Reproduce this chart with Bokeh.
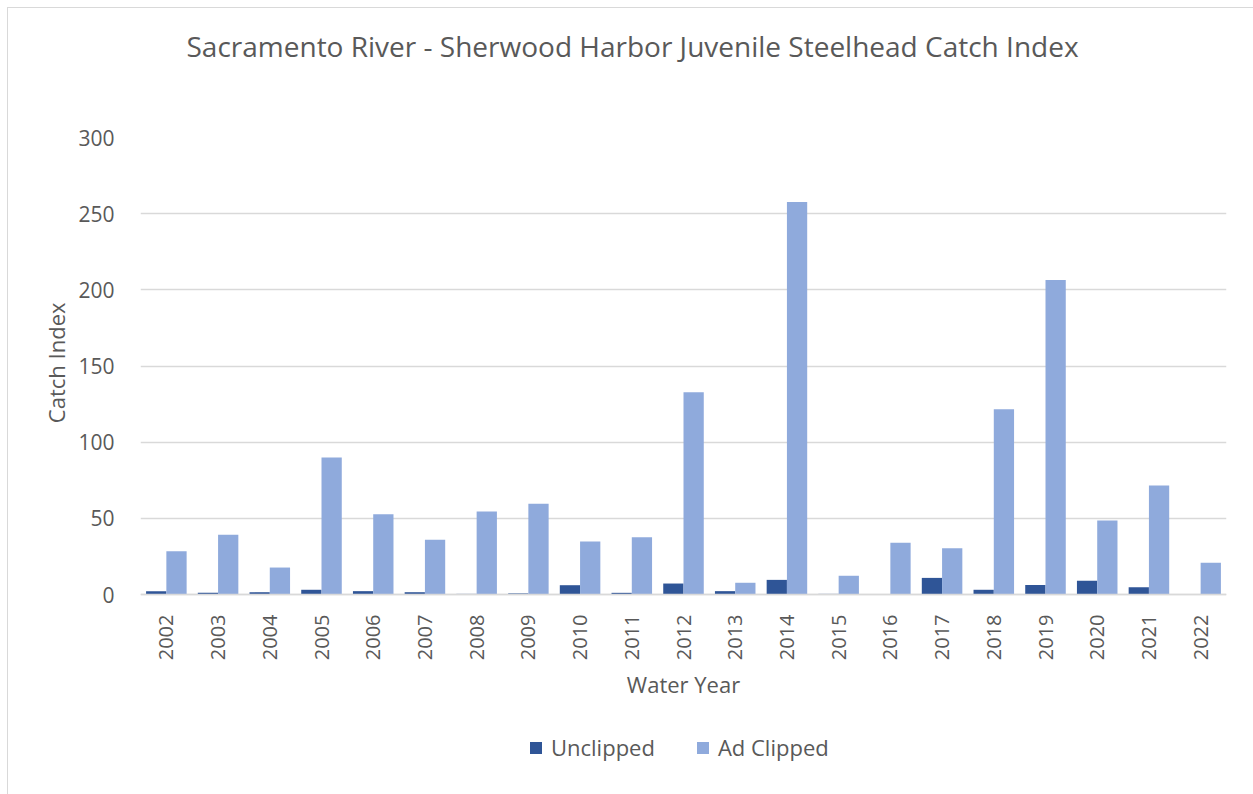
import math
from bokeh.plotting import figure
from bokeh.models import (ColumnDataSource, FactorRange, Legend, LegendItem, FixedTicker,
                          Title, Range1d)
from bokeh.transform import dodge
from bokeh.embed import file_html
from bokeh.resources import INLINE

years = [str(y) for y in range(2002, 2023)]
unclipped = [2.2, 1.1, 1.5, 3.1, 2.2, 1.5, 0.4, 0.7, 6.1, 1.1, 7.2, 2.2, 9.6, 0.4, 0.0, 10.9, 3.1, 6.3, 9.0, 4.8, 0.0]
ad_clipped = [28.4, 39.2, 17.7, 90.0, 52.7, 35.9, 54.5, 59.6, 34.8, 37.6, 132.7, 7.7, 257.6, 12.3, 33.9, 30.4, 121.6, 206.4, 48.6, 71.6, 20.8]
y_ticks = [0, 50, 100, 150, 200, 250, 300]

FONT = "Open Sans"
TXT = "#595959"

# frame: value axis 0..300 spans 457 px; frame continues 200 px below zero
PLOT_H = 457
BELOW = 200
y_min = -BELOW * 300 / PLOT_H

source = ColumnDataSource(dict(year=years, unclipped=unclipped, ad_clipped=ad_clipped))

p = figure(frame_width=1086, frame_height=PLOT_H + BELOW, x_range=FactorRange(*years),
           y_range=Range1d(y_min, 300), output_backend="svg", toolbar_location=None)
p.min_border_left = 132
p.min_border_right = 27
p.min_border_top = 129
p.min_border_bottom = 0
p.outline_line_color = None
p.styles = {"margin-left": "7px", "margin-top": "7px",
            "border-left": "1px solid #d9d9d9", "border-top": "1px solid #d9d9d9"}

# spacer between frame and title
p.add_layout(Title(text=" ", text_font_size="10px", standoff=60), "above")

p.title.text = "Sacramento River - Sherwood Harbor Juvenile Steelhead Catch Index"
p.title.align = "left"
p.title.offset = 46
p.title.text_font = FONT
p.title.text_font_size = "28px"
p.title.text_font_style = "normal"
p.title.text_color = TXT
p.title.standoff = 0

r1 = p.vbar(x=dodge("year", -0.196, range=p.x_range), top="unclipped", width=0.392,
            source=source, fill_color="#2f5597", line_color=None)
r2 = p.vbar(x=dodge("year", 0.196, range=p.x_range), top="ad_clipped", width=0.392,
            source=source, fill_color="#8faadc", line_color=None)

p.x_range.range_padding = 0
ticker = FixedTicker(ticks=y_ticks)
p.yaxis.ticker = ticker
p.ygrid.ticker = ticker
p.ygrid.grid_line_color = "#d9d9d9"
p.ygrid.grid_line_width = 1.3
p.xgrid.grid_line_color = None

for ax in (p.xaxis, p.yaxis):
    ax.major_tick_line_color = None
    ax.minor_tick_line_color = None
    ax.major_label_text_font = FONT
    ax.major_label_text_color = TXT
    ax.axis_label_text_font = FONT
    ax.axis_label_text_font_size = "22px"
    ax.axis_label_text_font_style = "normal"
    ax.axis_label_text_color = TXT

p.yaxis.major_label_text_font_size = "21px"
p.xaxis.major_label_text_font_size = "20px"
p.yaxis.axis_line_color = None
p.yaxis.major_label_standoff = 20

# y-axis title, placed along the 0..300 part of the frame
ytitle = Title(text="Catch Index", align="right", offset=165, standoff=10,
               text_font=FONT, text_font_size="22px", text_font_style="normal",
               text_color=TXT)
p.add_layout(ytitle, "left")

p.xaxis.fixed_location = 0
p.xaxis.axis_line_color = "#d9d9d9"
p.xaxis.axis_line_width = 1.5
p.xaxis.axis_label = "Water Year"
p.xaxis.major_label_orientation = math.pi / 2
p.xaxis.major_label_standoff = 14
p.xaxis.axis_label_standoff = 6

legend = Legend(items=[LegendItem(label="Unclipped", renderers=[r1]),
                       LegendItem(label="Ad Clipped", renderers=[r2])],
                orientation="horizontal", location=(388, 32))
legend.label_text_font = FONT
legend.label_text_font_size = "22px"
legend.label_text_color = TXT
legend.glyph_width = 15
legend.glyph_height = 15
legend.label_standoff = 8
legend.spacing = 40
legend.border_line_color = None
legend.background_fill_alpha = 0
legend.margin = 0
legend.padding = 6
p.add_layout(legend, "center")

open("out.html", "w").write(file_html(p, INLINE))
